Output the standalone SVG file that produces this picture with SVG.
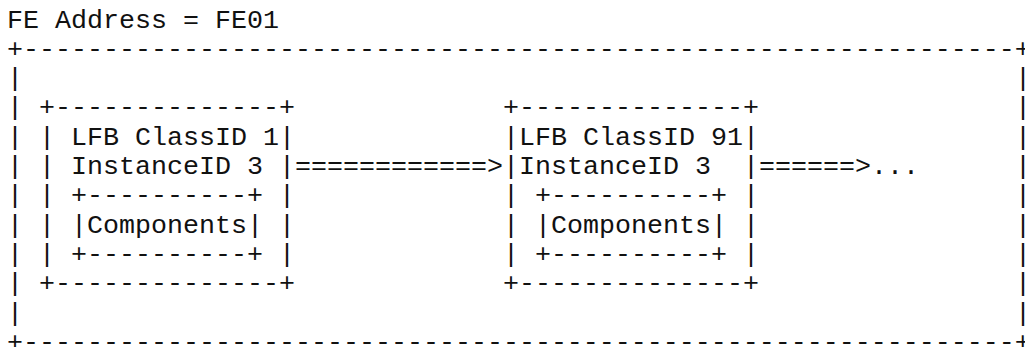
<svg xmlns="http://www.w3.org/2000/svg" width="1025" height="347" viewBox="0 0 1025 347">
<style>
text{font-family:"Liberation Mono","Courier New",monospace;font-size:26.67px;fill:#111;white-space:pre}
</style>
<rect width="1025" height="347" fill="#fff"/>
<g id="fe-frame">
<text x="7" y="27.5">FE Address = FE01</text>
<text x="7" y="56.8">+--------------------------------------------------------------+</text>
<text x="7" y="86.1">|</text><text x="1015" y="86.1">|</text>
<text x="7" y="115.4">|</text><text x="1015" y="115.4">|</text>
<text x="7" y="144.7">|</text><text x="1015" y="144.7">|</text>
<text x="7" y="174">|</text><text x="1015" y="174">|</text>
<text x="7" y="203.3">|</text><text x="1015" y="203.3">|</text>
<text x="7" y="232.6">|</text><text x="1015" y="232.6">|</text>
<text x="7" y="261.9">|</text><text x="1015" y="261.9">|</text>
<text x="7" y="291.2">|</text><text x="1015" y="291.2">|</text>
<text x="7" y="320.5">|</text><text x="1015" y="320.5">|</text>
<text x="7" y="349.8">+--------------------------------------------------------------+</text>
</g>
<g id="lfb1">
<text x="39" y="115.4">+--------------+</text>
<text x="39" y="144.7" xml:space="preserve">| LFB ClassID 1|</text>
<text x="39" y="174" xml:space="preserve">| InstanceID 3 |</text>
<text x="39" y="203.3" xml:space="preserve">| +----------+ |</text>
<text x="39" y="232.6" xml:space="preserve">| |Components| |</text>
<text x="39" y="261.9" xml:space="preserve">| +----------+ |</text>
<text x="39" y="291.2">+--------------+</text>
</g>
<g id="lfb2">
<text x="503" y="115.4">+--------------+</text>
<text x="503" y="144.7" xml:space="preserve">|LFB ClassID 91|</text>
<text x="503" y="174" xml:space="preserve">|InstanceID 3  |</text>
<text x="503" y="203.3" xml:space="preserve">| +----------+ |</text>
<text x="503" y="232.6" xml:space="preserve">| |Components| |</text>
<text x="503" y="261.9" xml:space="preserve">| +----------+ |</text>
<text x="503" y="291.2">+--------------+</text>
</g>
<g id="connectors">
<text x="295" y="174">============&gt;</text>
<text x="759" y="174">======&gt;...</text>
</g>
</svg>
